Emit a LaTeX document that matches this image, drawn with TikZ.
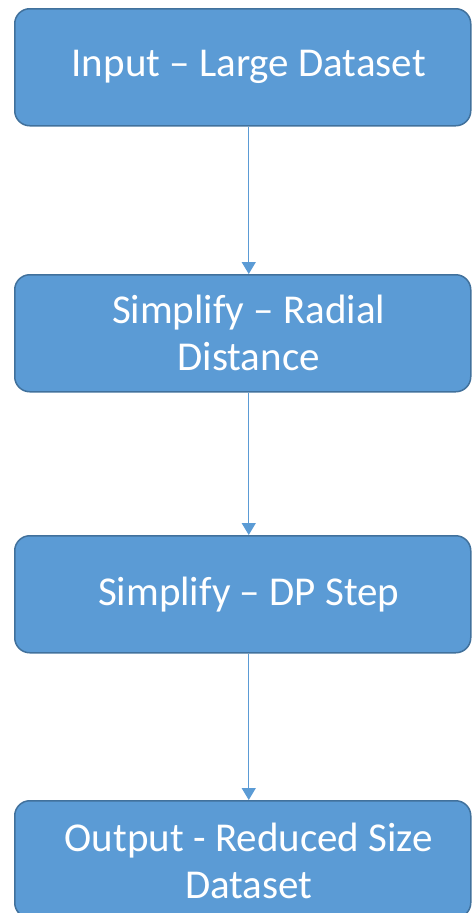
\documentclass[tikz,border=0pt]{standalone}
\usepackage{fontspec}
\setmainfont{Carlito}
\usetikzlibrary{arrows.meta}
\definecolor{boxfill}{HTML}{5B9BD5}
\definecolor{boxline}{HTML}{41719C}
\tikzset{
  stepbox/.style={draw=boxline, line width=1.5pt, fill=boxfill, rounded corners=15pt,
    minimum width=456pt, minimum height=117pt, inner sep=0pt, anchor=north west},
  steptext/.style={text=white, align=center, inner sep=0pt,
    font=\fontsize{41}{47}\selectfont},
  flow/.style={draw=boxfill, line width=1.2pt, -{Triangle[length=12pt,width=14pt]}}
}
\begin{document}
\begin{tikzpicture}[x=1pt,y=1pt]
  \useasboundingbox (0,0) rectangle (472,-913);
  \begin{scope}
    \clip (0,0) rectangle (472,-913);
    % boxes
    \node[stepbox] (b1) at (14,-8) {};
    \node[stepbox] (b2) at (14,-274) {};
    \node[stepbox] (b3) at (14,-535) {};
    \node[stepbox] (b4) at (14,-800) {};
    % labels
    \node[steptext] (t1) at ([xshift=6pt]b1.center) {Input – Large Dataset};
    \node[steptext] (t2) at ([xshift=6pt]b2.center) {Simplify – Radial\\Distance};
    \node[steptext] (t3) at ([xshift=6pt]b3.center) {Simplify – DP Step};
    \node[steptext] (t4) at ([xshift=6pt,yshift=-2pt]b4.center) {Output - Reduced Size\\Dataset};
    % connectors
    \draw[flow] ([xshift=6pt]b1.south) -- ([xshift=6pt]b2.north);
    \draw[flow] ([xshift=6pt]b2.south) -- ([xshift=6pt]b3.north);
    \draw[flow] ([xshift=6pt]b3.south) -- ([xshift=6pt]b4.north);
  \end{scope}
\end{tikzpicture}
\end{document}
